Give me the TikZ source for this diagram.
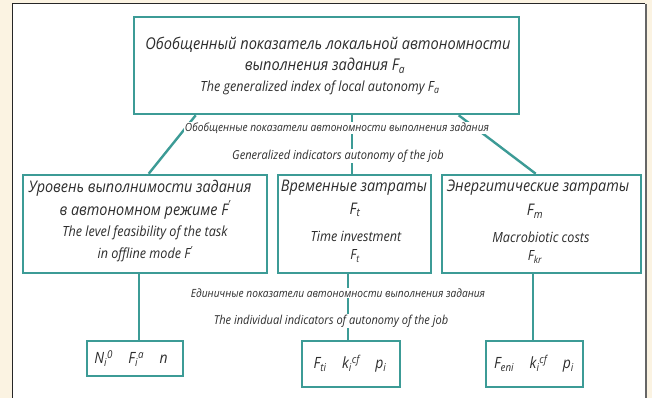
\documentclass[tikz,border=0pt]{standalone}
\usepackage{fontspec}
\setmainfont{Open Sans}[FakeStretch=0.9]
\definecolor{teal}{RGB}{60,155,150}
\definecolor{txt}{RGB}{45,45,45}
\definecolor{beige}{RGB}{251,243,226}
\newcommand{\fs}[1]{\itshape\fontsize{#1}{#1}\selectfont}
\newcommand{\sub}[1]{\textsubscript{#1}}
\newcommand{\sups}[1]{\textsuperscript{#1}}
\begin{document}
\begin{tikzpicture}[x=1pt,y=-1pt,
  box/.style={draw=teal, line width=2.6pt, fill=white, inner sep=0pt},
  conn/.style={draw=teal, line width=2.4pt},
  lbl/.style={fill=white, inner sep=1pt, text=txt, font=\fs{11.3}},
  lble/.style={lbl, font=\fs{12.3}},
  big/.style={inner sep=0pt, text=txt, font=\fs{16}},
  small/.style={inner sep=0pt, text=txt, font=\fs{14}}]
\useasboundingbox (0,0) rectangle (652,398);
\fill[beige] (0,0) rectangle (652,398);
\fill[white] (12,4) rectangle (645,400);
\draw[black!85, line width=1pt] (12,400) -- (12,4) -- (645,4);
\draw[black!60, line width=2pt] (646,4) -- (646,400);
% boxes
\node[box, minimum width=385pt, minimum height=97pt] (top) at (326.5,65.5) {};
\node[box, minimum width=244pt, minimum height=98pt] (lbox) at (145,224) {};
\node[box, minimum width=153pt, minimum height=98pt] (mbox) at (354.5,224) {};
\node[box, minimum width=199pt, minimum height=98pt] (rbox) at (541.5,224) {};
\node[box, minimum width=96pt, minimum height=35pt] (lb) at (135,358.5) {};
\node[box, minimum width=98pt, minimum height=46pt] (mb) at (351,364) {};
\node[box, minimum width=97pt, minimum height=46pt] (rb) at (534.5,364) {};
% connectors
\draw[conn] ([xshift=63pt]top.south west) -- ([xshift=127pt]lbox.north west);
\draw[conn] ([xshift=219pt]top.south west) -- ([xshift=75pt]mbox.north west);
\draw[conn] ([xshift=326pt]top.south west) -- ([xshift=95pt]rbox.north west);
\draw[conn] ([xshift=117pt]lbox.south west) -- ([xshift=53pt]lb.north west);
\draw[conn] ([xshift=71pt]mbox.south west) -- ([xshift=47pt]mb.north west);
\draw[conn] ([xshift=92pt]rbox.south west) -- ([xshift=48pt]rb.north west);
% labels between
\node[lbl] (l1) at (337,128) {Обобщенные показатели автономности выполнения задания};
\node[lble] (l2) at (338,156) {Generalized indicators autonomy of the job};
\node[lbl] (l3) at (338,293) {Единичные показатели автономности выполнения задания};
\node[lble] (l4) at (331,321) {The individual indicators of autonomy of the job};
% top box text
\node[big, font=\fs{16.2}] (t1) at (328,45) {Обобщенный показатель локальной автономности};
\node[big, font=\fs{16.2}] (t2) at (325,66) {выполнения задания F\sub{a}};
\node[small] (t3) at (320,88) {The generalized index of local autonomy F\sub{a}};
% left box text
\node[big] (a1) at (140,188) {Уровень выполнимости задания};
\node[big] (a2) at (145,210) {в автономном режиме F\sups{'}};
\node[small] (a3) at (145,233) {The level feasibility of the task};
\node[small] (a4) at (145,254) {in offline mode F\sups{'}};
% middle box text
\node[big] (b1) at (354,188) {Временные затраты};
\node[big] (b2) at (355,210) {F\sub{t}};
\node[small] (b3) at (356,236) {Time investment};
\node[small] (b4) at (355,256) {F\sub{t}};
% right box text
\node[big] (c1) at (538,188) {Энергитические затраты};
\node[big] (c2) at (535,211) {F\sub{m}};
\node[small] (c3) at (541,237) {Macrobiotic costs};
\node[small] (c4) at (535,257) {F\sub{kr}};
% lower boxes text
\node[big, font=\fs{15.5}] (d1) at (131,358.5) {N\sub{i}\sups{0}\quad F\sub{i}\sups{a}\quad n};
\node[big, font=\fs{15.5}] (d2) at (350,364) {F\sub{ti}\quad k\sub{i}\sups{cf}\quad p\sub{i}};
\node[big, font=\fs{15.5}] (d3) at (534,364) {F\sub{eni}\quad k\sub{i}\sups{cf}\quad p\sub{i}};
\end{tikzpicture}
\end{document}
